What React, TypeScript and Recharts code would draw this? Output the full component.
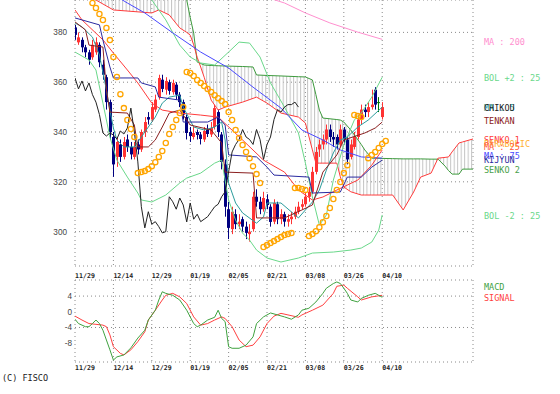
import React from 'react';
import { ComposedChart, Line, Bar, Area, Scatter, XAxis, YAxis, CartesianGrid } from 'recharts';

// ---------- categories / ticks ----------
const dateTicks = [0, 11, 22, 33, 44, 55, 66, 77, 88];
const dateLabels = ['11/29', '12/14', '12/29', '01/19', '02/05', '02/21', '03/08', '03/26', '04/10'];
const priceTicks = [300, 320, 340, 360, 380];
const macdTicks = [-8, -4, 0, 4];

// ---------- candles (index 0 = 11/29 ... 88 = 04/10) ----------
const opens = [
  382, 376, 377, 374, 372, 370, 372, 375, 367, 362,
  352, 338, 330, 335, 330, 337, 334, 330, 335, 333,
  340, 346, 345, 349, 354, 361, 357, 360, 356, 359,
  355, 352, 346, 340, 338, 340, 339, 337, 341, 339,
  342, 348, 339, 327, 309, 301, 307, 303, 305, 302,
  299, 301, 314, 312, 309, 313, 310, 304, 311, 305,
  307, 304, 305, 306, 308, 310, 311, 314, 316, 324,
  333, 335, 337, 341, 338, 338, 335, 341, 337, 330,
  334, 338, 345, 349, 348, 350, 357, 352, 346,
];
const highs = [
  383, 380, 378, 375, 373, 377, 378, 376, 369, 363,
  353, 340, 338, 337, 338, 339, 336, 336, 337, 341,
  346, 348, 352, 355, 363, 363, 362, 361, 361, 360,
  356, 353, 347, 342, 342, 341, 340, 342, 343, 344,
  351, 349, 340, 329, 312, 310, 309, 307, 306, 304,
  303, 316, 317, 314, 316, 315, 311, 313, 312, 309,
  308, 307, 308, 310, 312, 313, 316, 318, 326, 334,
  337, 339, 343, 343, 340, 339, 343, 342, 338, 337,
  340, 347, 351, 351, 352, 357, 358, 354, 352,
];
const lows = [
  377, 375, 372, 370, 367, 369, 371, 366, 361, 349,
  337, 322, 326, 328, 329, 332, 329, 329, 331, 332,
  338, 343, 344, 348, 353, 356, 355, 355, 355, 353,
  350, 345, 337, 336, 337, 337, 335, 336, 338, 338,
  341, 338, 325, 306, 297, 299, 301, 301, 300, 297,
  296, 300, 310, 307, 308, 309, 302, 303, 303, 303,
  302, 302, 303, 305, 307, 309, 310, 312, 315, 323,
  330, 333, 335, 336, 334, 333, 334, 335, 327, 329,
  333, 337, 343, 346, 346, 349, 349, 348, 345,
];
const closes = [
  379, 378, 374, 372, 369, 375, 376, 368, 363, 352,
  340, 327, 336, 330, 336, 334, 331, 334, 333, 340,
  344, 345, 350, 353, 361.7, 357.3, 360.5, 356.5, 359.7, 355,
  352, 347, 339.6, 338.4, 339.6, 338.8, 337.2, 340.4, 339.2, 341.6,
  349.6, 340, 328, 310, 301.5, 308, 303, 304, 302, 299.5,
  300, 314, 312, 309, 313.5, 310.7, 303.9, 311.5, 305, 307,
  304, 305, 306, 308, 310, 311, 314, 316, 324, 332,
  335, 337, 341, 338, 337, 335, 341, 337, 329, 335,
  338, 345, 349, 348, 350, 351, 351, 352, 350,
];

// ---------- lines: [index, value] ----------
const ma5: [number, number][] = [[0,383.8],[2,382.2],[5,378.1],[7,370.9],[9,356.9],[10,348.8],[11,341.6],[12,336.8],[14,334],[17,334],[19,338],[21,342],[23,346],[25,351.6],[27,354],[30,354.8],[31,350],[34,342],[37,340.8],[40,342],[42,344],[43,336.8],[44,319.5],[46,311.5],[48,307.5],[52,303.4],[54,305.9],[55,311.5],[59,311.5],[62,307.9],[64,305.5],[66,308.7],[68,311.9],[70,316.7],[72,324.7],[74,331.6],[76,336.8],[78,338],[81,342],[84,344.8],[88,350]];
const ma25: [number, number][] = [[0,389],[2,385],[8,377],[11,371.7],[15,364.9],[18,359.7],[22,351.6],[25,348.8],[30,347.6],[36,346.8],[41,346],[48,336.8],[54,328.7],[60,323.9],[64,316.7],[68,312.7],[71,313.9],[75,316.7],[81,320.7],[85,326.7],[88,332.8]];
const ma75: [number, number][] = [[10,396],[15,391.8],[20,387.8],[28,379.8],[36,372.1],[44,365.7],[51,358],[59,349.6],[65,340.8],[71,336.8],[76,332.8],[82,330],[88,329.5]];
const ma200: [number, number][] = [[56,393.6],[60,391.8],[66,387.8],[73,383.8],[81,380.1],[88,377.2]];
const tenkan: [number, number][] = [[0,384.2],[3,381],[4,374.9],[8,374.1],[9,356.9],[10,348],[15,347.6],[17,342.8],[18,334],[21,334],[23,336.8],[25,342],[27,347.6],[30,348.8],[33,342.8],[39,340.8],[42,335.6],[43,323.9],[51,323.5],[52,305.5],[60,305.5],[65,308.7],[68,310.7],[71,323.9],[75,330.8],[77,336.8],[83,339.6],[86,341.6],[88,344]];
const kijun: [number, number][] = [[0,385.8],[7,383],[8,376.9],[10,366.1],[11,361.7],[18,361.7],[19,359.7],[23,358.1],[24,354],[30,352.8],[31,344],[38,344],[41,346],[43,342.8],[44,330.8],[52,330],[55,325.9],[57,322.7],[67,321.9],[68,315.5],[76,315.9],[78,321.9],[82,321.9],[85,325.9],[88,328.7]];
const bolUp: [number, number][] = [[0,405],[15,400],[21,394],[22,393],[26,385],[30,374.9],[33,370.1],[36,367.7],[40,366.9],[44,372.1],[47,376.1],[50,375.7],[53,370.1],[56,359.7],[60,350],[64,339.6],[66,327.5],[68,313.9],[70,302.6],[72,306.7],[74,320.7],[77,334.8],[80,344.8],[82,347.6],[85,354],[88,362]];
const bolDn: [number, number][] = [[0,372.1],[4,368.9],[6,364.9],[8,351.6],[10,338],[12,328.7],[15,321.9],[18,315.5],[19,312.7],[22,311.9],[26,314.7],[30,319.5],[32,321.5],[36,323.5],[40,327.5],[42,328.7],[44,312.7],[46,304.6],[48,299.4],[50,296.6],[52,292.6],[55,289.4],[59,287.8],[64,289.4],[68,291.4],[74,291.8],[79,292.6],[82,293.4],[85,295.8],[87,300.6],[88,306.7]];
const chikou = [
  361.7, 357.3, 360.5, 356.5, 359.7, 355, 352, 347, 339.6, 338.4,
  339.6, 338.8, 337.2, 340.4, 339.2, 341.6, 349.6, 340, 328, 310,
  301.5, 308, 303, 304, 302, 299.5, 300, 314, 312, 309,
  313.5, 310.7, 303.9, 311.5, 305, 307, 304, 305, 306, 308,
  310, 311, 314, 316, 324, 332, 335, 337, 341, 338,
  337, 335, 341, 337, 329, 335, 338, 345, 349, 348,
  350, 351, 351, 352, 350,
];
// cloud (senko spans, shifted forward)
const cloudIdx = [0,6,11,22,24,27,30,32,33,34,35,36,37,39,41,43,48,51,52,55,59,64,66,68,69,70,71,75,76,77,79,82,83,85,91,94,97,99,102,104,106,107,108,110,111,114];
const senko1 = [401,393,389,387.8,389,387,381.8,380,378.9,375,370,366.1,362,352.8,348.8,350,352,353.5,354,351.6,347.6,346,343.6,332.8,327.5,327.5,327.5,327.5,322,317.9,316,314.7,314.7,314.7,314.7,308.7,315.9,321.9,323.5,329.5,329.8,330,332,335.6,336,337.2];
const senko2 = [405,404,403,400,399,398,396,393,386,379.7,368.1,367.5,366.9,366.7,366.6,366.5,366.3,366.1,362.9,362.7,362.5,362.2,362.1,360.9,355,348.8,345.6,345,344.8,344,340.8,335,332.8,329.5,329.3,329.2,329.2,329.2,329.1,329.1,326.3,324.5,323.1,323.1,325.1,325.1];
// parabolic SAR
const sar: [number, number][] = [[5,391.8],[6,389.8],[7,387.4],[8,385],[9,381.8],[10,376.9],[11,370.1],[12,362.1],[13,355.2],[14,349.6],[15,344.8],[16,341.2],[17,338],[18,323.5],[19,323.9],[20,324.3],[21,325.1],[22,326.3],[23,327.9],[24,330],[25,332.4],[26,335.6],[27,339.2],[28,342],[29,344.8],[30,347.6],[31,350],[32,364.1],[33,363.7],[34,362.5],[35,360.9],[36,359.7],[37,358.5],[38,357.3],[39,356.1],[40,354.8],[41,353.6],[42,352.4],[43,351.2],[44,348],[45,344.8],[46,340.8],[47,337.6],[48,334.8],[49,332],[50,329.5],[51,326.3],[52,323.1],[53,319.5],[54,293.8],[55,294.6],[56,295.4],[57,296.2],[58,297],[59,297.8],[60,298.6],[61,299],[62,299.4],[63,317.5],[64,317.5],[65,317.1],[66,316.7],[67,298.2],[68,299],[69,300.2],[70,301.8],[71,303.8],[72,306.3],[73,309.5],[74,313.1],[75,316.7],[76,319.9],[77,323.5],[78,326.7],[80,346.8],[81,346.4],[82,346],[84,329.5],[85,330.8],[86,332],[87,333.6],[88,335.2],[89,336.4]];
// MACD pane
const macd: [number, number][] = [[0,-1.9],[1,-3.0],[3,-3.8],[4,-3.8],[5,-3.0],[6,-2.1],[7,-3.0],[8,-4.7],[9,-7.2],[10,-9.7],[11,-12.3],[12,-11.5],[14,-11.0],[16,-9.2],[18,-6.7],[20,-4.7],[21,-2.1],[23,0.4],[24,3.0],[25,5.1],[26,4.7],[28,4.2],[30,3.0],[32,0.4],[34,-3.0],[35,-3.8],[36,-3.4],[38,-2.1],[40,-1.4],[41,0.4],[42,-1.7],[43,-2.5],[44,-8.9],[45,-9.3],[47,-9.3],[49,-8.5],[51,-6.4],[52,-3.0],[54,-1.3],[56,-0.3],[58,-0.8],[60,-1.3],[62,-1.9],[64,-0.8],[65,0.4],[67,0.9],[69,2.5],[71,4.7],[72,6.0],[74,7.2],[75,7.6],[76,7.2],[77,6.0],[78,4.7],[79,3.0],[81,2.5],[82,3.4],[84,4.2],[86,4.7],[87,4.2],[88,3.7]];
const signal: [number, number][] = [[0,-1.1],[2,-2.1],[4,-3.0],[6,-3.2],[8,-3.4],[9,-3.8],[10,-5.9],[11,-8.9],[13,-10.6],[14,-11.0],[16,-9.7],[18,-7.6],[20,-5.1],[21,-2.1],[23,0.4],[25,3.0],[26,4.2],[28,4.7],[30,3.8],[32,2.1],[34,-1.3],[36,-3.4],[38,-3.0],[40,-2.1],[42,-1.3],[43,-1.7],[45,-3.8],[47,-7.2],[49,-8.9],[51,-8.5],[53,-6.4],[55,-3.0],[57,-1.1],[59,-0.4],[61,-0.8],[64,-1.4],[65,-0.8],[68,0.4],[71,1.7],[74,4.7],[75,6.5],[77,6.8],[78,6.0],[81,3.8],[82,3.0],[85,3.8],[88,4.2]];

// ---------- tables for the library ----------
const pts = (a: [number, number][]) => a.map(([i, v]) => ({ i, v }));
const candleData = closes.map((c, i) => ({ i, o: opens[i], h: highs[i], l: lows[i], c, r: [lows[i], highs[i]] }));
const cloudData = cloudIdx.map((i, k) => ({ i, r: [senko2[k], senko1[k]] }));
const senko1Data = cloudIdx.map((i, k) => ({ i, v: senko1[k] }));
const senko2Data = cloudIdx.map((i, k) => ({ i, v: senko2[k] }));
const chikouData = chikou.map((v, i) => ({ i, v }));

const C = {
  up: '#ff3333', down: '#000080', doji: '#007700',
  ma5: '#2c9c9c', ma25: '#ff3b3b', ma75: '#4a4aff', ma200: '#ff8fcf',
  tenkan: '#8b2020', kijun: '#2a2aa0', chikou: '#222222',
  senko1: '#ff3b3b', senko2: '#3d9a3d', bol: '#6ad88a', sar: '#ffa500',
  macd: '#3fa23f', signal: '#ff4040', grid: '#8a8a8a',
};

const Candle = (props: any) => {
  const { x, y, width, height, payload } = props;
  if (!payload || height == null) return null;
  const { o, h, l, c } = payload;
  const cx = Math.round(x + width / 2) + 0.5;
  const span = h - l || 1;
  const py = (val: number) => y + ((h - val) / span) * height;
  const color = c > o ? C.up : c < o ? C.down : C.doji;
  const top = py(Math.max(o, c));
  const bot = py(Math.min(o, c));
  return (
    <g>
      <line x1={cx} x2={cx} y1={y} y2={y + height} stroke={color} strokeWidth={1} />
      <rect x={cx - 1.5} y={top} width={3} height={Math.max(1, bot - top)} fill={color} />
    </g>
  );
};

const SarDot = (props: any) => {
  const { cx, cy } = props;
  if (cx == null || cy == null) return null;
  return <circle cx={cx} cy={cy} r={2.6} fill="none" stroke={C.sar} strokeWidth={1.3} />;
};

const DateTick = (props: any) => {
  const { x, payload, baseY } = props;
  const k = dateTicks.indexOf(payload.value);
  return (
    <text x={x} y={baseY} fontSize={6.6} fontWeight="bold" fontFamily="'DejaVu Sans Mono', monospace" fill="#222">
      {dateLabels[k]}
    </text>
  );
};

const mono = "'DejaVu Sans Mono', monospace";
const legend: { t: string; y: number; c: string }[] = [
  { t: 'MA : 200', y: 42, c: C.ma200 },
  { t: 'BOL +2 : 25', y: 77.5, c: C.bol },
  { t: 'MA : 5', y: 107.5, c: C.ma5 },
  { t: 'CHIKOU', y: 107.5, c: C.chikou },
  { t: 'TENKAN', y: 121, c: C.tenkan },
  { t: 'SENKO 1', y: 140, c: C.senko1 },
  { t: 'PARABOLIC', y: 143.5, c: '#ffb030' },
  { t: 'MA : 25', y: 146.5, c: '#ff5a3a' },
  { t: 'MA : 75', y: 156, c: C.ma75 },
  { t: 'KIJYUN', y: 159.5, c: C.kijun },
  { t: 'SENKO 2', y: 169.5, c: '#4aa04a' },
  { t: 'BOL -2 : 25', y: 216, c: C.bol },
  { t: 'MACD', y: 287, c: C.macd },
  { t: 'SIGNAL', y: 298, c: C.signal },
];

const lineProps = { type: 'linear' as const, dot: false, activeDot: false, isAnimationActive: false, strokeWidth: 1, dataKey: 'v' };

export default function App() {
  return (
    <div style={{ position: 'absolute', left: 0, top: 0, width: 560, height: 394, background: '#fff', overflow: 'hidden' }}>
      <div style={{ position: 'absolute', left: 0, top: 0 }}>
        <ComposedChart width={560} height={290} data={candleData} margin={{ top: 0, right: 87, bottom: 4, left: 0 }}>
          <defs>
            <pattern id="hatch" patternUnits="userSpaceOnUse" width="3.49" height="4">
              <line x1="0.5" y1="0" x2="0.5" y2="4" stroke="#c4c4c4" strokeWidth="1" />
            </pattern>
          </defs>
          <CartesianGrid stroke={C.grid} strokeDasharray="1 3" />
          <XAxis dataKey="i" type="number" domain={[0, 114]} ticks={dateTicks} allowDataOverflow interval={0}
            height={20} tickLine={false} axisLine={false} tick={<DateTick baseY={278} />} />
          <YAxis type="number" domain={[286.2, 393]} ticks={priceTicks} allowDataOverflow width={75}
            tickLine={false} axisLine={false}
            tick={{ fontSize: 8.2, fill: '#444', fontFamily: "'Liberation Sans', Arial, sans-serif" }} />
          <Area data={cloudData} dataKey="r" type="linear" stroke="none" fill="url(#hatch)" fillOpacity={1} isAnimationActive={false} activeDot={false} />
          <Line {...lineProps} data={senko2Data} stroke={C.senko2} />
          <Line {...lineProps} data={senko1Data} stroke={C.senko1} />
          <Line {...lineProps} data={pts(ma200)} stroke={C.ma200} />
          <Line {...lineProps} data={pts(bolUp)} stroke={C.bol} />
          <Line {...lineProps} data={pts(bolDn)} stroke={C.bol} />
          <Line {...lineProps} data={pts(ma75)} stroke={C.ma75} />
          <Line {...lineProps} data={pts(ma25)} stroke={C.ma25} />
          <Bar dataKey="r" shape={<Candle />} barSize={3} isAnimationActive={false} />
          <Line {...lineProps} data={pts(ma5)} stroke={C.ma5} />
          <Line {...lineProps} data={pts(kijun)} stroke={C.kijun} />
          <Line {...lineProps} data={pts(tenkan)} stroke={C.tenkan} />
          <Line {...lineProps} data={chikouData} stroke={C.chikou} />
          <Scatter data={pts(sar)} dataKey="v" shape={<SarDot />} isAnimationActive={false} />
        </ComposedChart>
      </div>
      <div style={{ position: 'absolute', left: 0, top: 270 }}>
        <ComposedChart width={560} height={106} margin={{ top: 10, right: 87, bottom: 0, left: 0 }}>
          <CartesianGrid stroke={C.grid} strokeDasharray="1 3" />
          <XAxis dataKey="i" type="number" domain={[0, 114]} ticks={dateTicks} allowDataOverflow interval={0}
            height={14} tickLine={false} axisLine={false} tick={<DateTick baseY={99.5} />} />
          <YAxis type="number" domain={[-12.8, 8.1]} ticks={macdTicks} allowDataOverflow width={75}
            tickLine={false} axisLine={false} tickSize={3} tickMargin={0}
            tick={{ fontSize: 8.2, fill: '#444', fontFamily: "'Liberation Sans', Arial, sans-serif" }} />
          <Line {...lineProps} data={pts(signal)} stroke={C.signal} />
          <Line {...lineProps} data={pts(macd)} stroke={C.macd} />
        </ComposedChart>
      </div>
      <svg width={560} height={394} style={{ position: 'absolute', left: 0, top: 0, pointerEvents: 'none' }}>
        {legend.map((d, k) => (
          <text key={k} x={484} y={d.y} dominantBaseline="central" fontSize={8.5} fontFamily={mono} fill={d.c}>{d.t}</text>
        ))}
        <text x={2} y={378} dominantBaseline="central" fontSize={8.5} fontFamily={mono} fill="#222">(C) FISCO</text>
      </svg>
    </div>
  );
}
